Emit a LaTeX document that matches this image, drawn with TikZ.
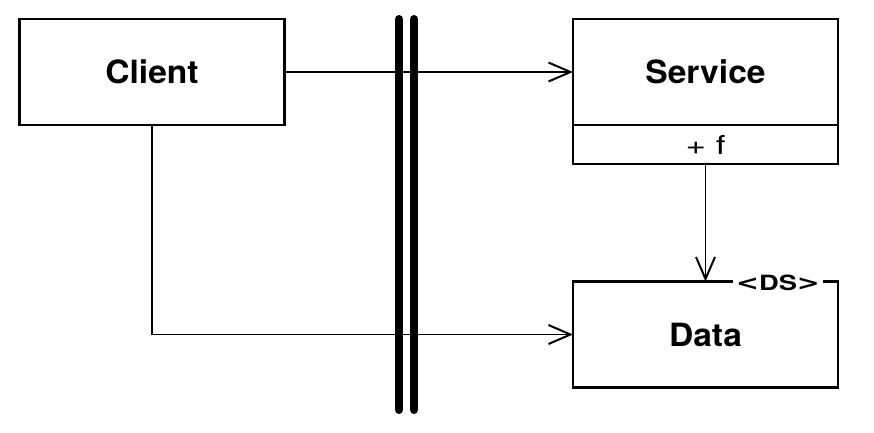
\documentclass[tikz,border=0pt]{standalone}
\usepackage{fontspec}
\setmainfont{TeX Gyre Heros}
\newfontfamily\bracketfont{DejaVu Sans}
\usetikzlibrary{arrows.meta}
\newcommand{\widen}[2]{\scalebox{#1}[1]{#2}}
\begin{document}
\begin{tikzpicture}[x=1pt,y=-1pt,
  box/.style={draw, line width=2.2pt, minimum width=265pt, minimum height=106pt,
              inner sep=0pt, outer sep=0pt},
  boxtext/.style={font=\fontsize{32}{34}\selectfont\bfseries},
  comp/.style={draw, line width=2.2pt, minimum width=265pt, minimum height=39pt,
               inner sep=0pt, outer sep=0pt},
  comptext/.style={font=\fontsize{26}{28}\selectfont},
  link/.style={line width=1.9pt, -{Straight Barb[length=22pt,width=19pt,line width=2pt]}},
  wall/.style={line width=8pt, line cap=round},
  stereo/.style={fill=white, inner xsep=3pt, inner ysep=1pt,
                 font=\fontsize{21}{23}\selectfont\bfseries}]
  \useasboundingbox (0,0) rectangle (874,432);

  % boundary wall
  \coordinate (w1a) at (399,19); \coordinate (w1b) at (399,410);
  \coordinate (w2a) at (414,19); \coordinate (w2b) at (414,410);
  \draw[wall] (w1a) -- (w1b);
  \draw[wall] (w2a) -- (w2b);

  % classes
  \node[box] (client) at (152,72) {};
  \node[boxtext] (clientlabel) at (client.center) {\widen{1.05}{Client}};
  \node[box] (service) at (705.5,72) {};
  \node[boxtext] (servicelabel) at (service.center) {\widen{1.05}{Service}};
  \node[comp, anchor=north] (ops) at (service.south) {};
  \node[comptext] (opslabel) at (ops.center) {\widen{1.35}{+ f}};
  \node[box] (data) at (705.5,334.5) {};
  \node[boxtext] (datalabel) at (data.center) {\widen{1.05}{Data}};
  \node[stereo] (ds) at (778,283) {\widen{1.3}{{\bracketfont\bfseries <}DS{\bracketfont\bfseries >}}};

  % associations
  \draw[link] (client.east) -- (service.west);
  \coordinate (bend) at (client.south |- data.west);
  \draw[link] (client.south) -- (bend) -- (data.west);
  \draw[link] (ops.south) -- (ops.south |- data.north);
\end{tikzpicture}
\end{document}
